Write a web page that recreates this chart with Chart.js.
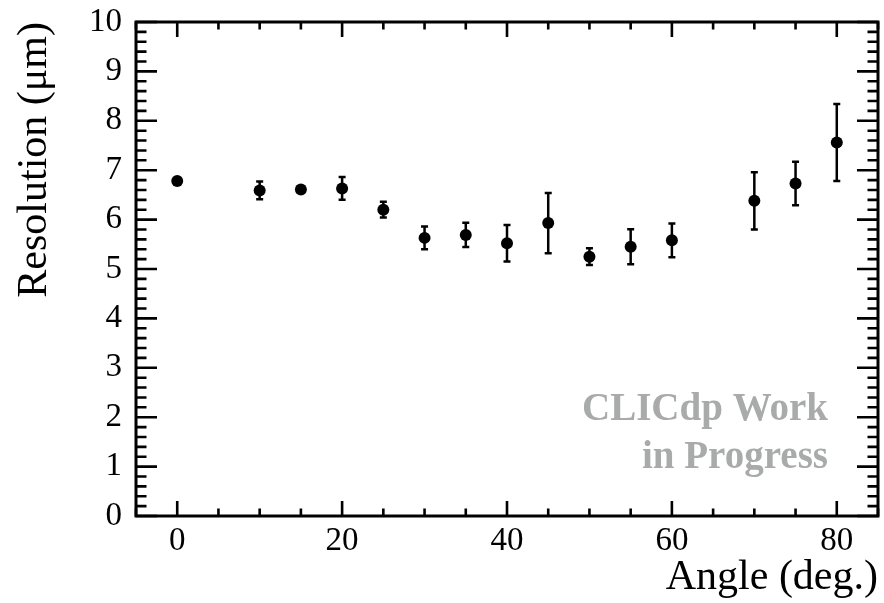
<!DOCTYPE html>
<html>
<head>
<meta charset="utf-8">
<script src="https://cdn.jsdelivr.net/npm/chart.js@4/dist/chart.umd.min.js"></script>
<style>
  html, body { margin: 0; padding: 0; background: #fff; }
  #wrap { width: 884px; height: 603px; }
</style>
</head>
<body>
<div id="wrap"><canvas id="c" width="884" height="603"></canvas></div>
<script>
// Sensor resolution versus incidence angle
const angles = [0, 10, 15, 20, 25, 30, 35, 40, 45, 50, 55, 60, 70, 75, 80];
const resolution = [6.78, 6.59, 6.61, 6.63, 6.20, 5.63, 5.69, 5.52, 5.93, 5.25, 5.45, 5.58, 6.38, 6.73, 7.56];
const resolutionErr = [0.05, 0.18, 0.05, 0.23, 0.16, 0.23, 0.245, 0.37, 0.61, 0.17, 0.355, 0.34, 0.58, 0.44, 0.78];

const xTicks = [0, 20, 40, 60, 80];
const yTicks = [0, 1, 2, 3, 4, 5, 6, 7, 8, 9, 10];
const xMinorStep = 5;
const yMinorStep = 0.2;

const SERIF = '"Liberation Serif", "DejaVu Serif", serif';

// Frame, inward ticks on all four sides, error bars and the label box
const frameAndErrors = {
  id: 'frameAndErrors',
  beforeDatasetsDraw(chart) {
    const ctx = chart.ctx;
    const xs = chart.scales.x, ys = chart.scales.y;
    ctx.save();
    ctx.strokeStyle = '#000';
    ctx.lineWidth = 2.5;
    ctx.lineCap = 'butt';
    const cap = 3.5;
    angles.forEach((a, i) => {
      const px = xs.getPixelForValue(a);
      const lo = ys.getPixelForValue(resolution[i] - resolutionErr[i]);
      const hi = ys.getPixelForValue(resolution[i] + resolutionErr[i]);
      ctx.beginPath();
      ctx.moveTo(px, lo); ctx.lineTo(px, hi);
      ctx.moveTo(px - cap, lo); ctx.lineTo(px + cap, lo);
      ctx.moveTo(px - cap, hi); ctx.lineTo(px + cap, hi);
      ctx.stroke();
    });
    ctx.restore();
  },
  afterDraw(chart) {
    const ctx = chart.ctx;
    const a = chart.chartArea;
    const xs = chart.scales.x, ys = chart.scales.y;
    ctx.save();
    ctx.strokeStyle = '#000';
    ctx.lineWidth = 2.6;
    ctx.lineCap = 'butt';

    // x ticks (bottom and top)
    const xMajLen = 15, xMinLen = 7.5;
    for (let v = xs.min; v <= xs.max + 1e-9; v += xMinorStep) {
      const major = xTicks.includes(Math.round(v));
      const len = major ? xMajLen : xMinLen;
      const px = xs.getPixelForValue(v);
      ctx.beginPath();
      ctx.moveTo(px, a.bottom); ctx.lineTo(px, a.bottom - len);
      ctx.moveTo(px, a.top); ctx.lineTo(px, a.top + len);
      ctx.stroke();
    }
    // y ticks (left and right)
    const yMajLen = 21, yMinLen = 10.5;
    const nMinor = Math.round((ys.max - ys.min) / yMinorStep);
    for (let k = 0; k <= nMinor; k++) {
      const v = ys.min + k * yMinorStep;
      const major = k % 5 === 0;
      const len = major ? yMajLen : yMinLen;
      const py = ys.getPixelForValue(v);
      ctx.beginPath();
      ctx.moveTo(a.left, py); ctx.lineTo(a.left + len, py);
      ctx.moveTo(a.right, py); ctx.lineTo(a.right - len, py);
      ctx.stroke();
    }

    // frame
    ctx.lineWidth = 3;
    ctx.strokeRect(a.left, a.top, a.right - a.left, a.bottom - a.top);

    // label box
    ctx.fillStyle = '#a9abaa';
    ctx.font = 'bold 39px ' + SERIF;
    ctx.textAlign = 'right';
    ctx.textBaseline = 'alphabetic';
    ctx.fillText('CLICdp Work', 828, 420);
    ctx.fillText('in Progress', 828, 468);
    ctx.restore();
  }
};

new Chart(document.getElementById('c'), {
  type: 'scatter',
  data: {
    datasets: [{
      label: 'Resolution',
      data: angles.map((a, i) => ({ x: a, y: resolution[i] })),
      backgroundColor: '#000',
      borderColor: '#000',
      pointRadius: 6,
      pointHoverRadius: 6,
      pointBorderWidth: 0
    }]
  },
  options: {
    responsive: false,
    animation: false,
    events: [],
    layout: { padding: { left: 0, top: 22, right: 4, bottom: 0 } },
    plugins: { legend: { display: false }, tooltip: { enabled: false } },
    scales: {
      x: {
        type: 'linear',
        min: -5,
        max: 85,
        afterBuildTicks(s) { s.ticks = xTicks.map(v => ({ value: v })); },
        afterFit(s) { s.height = 87; s.paddingLeft = 0; s.paddingRight = 0; },
        grid: { display: false, drawTicks: false },
        border: { display: false },
        ticks: {
          color: '#000',
          font: { family: SERIF, size: 33 },
          padding: 6,
          maxRotation: 0,
          autoSkip: false
        },
        title: {
          display: true,
          text: 'Angle (deg.)',
          align: 'end',
          color: '#000',
          font: { family: SERIF, size: 42 },
          padding: { top: 0, bottom: 0 }
        }
      },
      y: {
        type: 'linear',
        min: 0,
        max: 10,
        afterBuildTicks(s) { s.ticks = yTicks.map(v => ({ value: v })); },
        afterFit(s) { s.width = 136; s.paddingTop = 0; s.paddingBottom = 0; },
        grid: { display: false, drawTicks: false },
        border: { display: false },
        ticks: {
          color: '#000',
          font: { family: SERIF, size: 33 },
          padding: 14,
          autoSkip: false
        },
        title: {
          display: true,
          text: 'Resolution (\u03bcm)',
          align: 'end',
          color: '#000',
          font: { family: SERIF, size: 42 },
          padding: { top: 10, bottom: 0 }
        }
      }
    }
  },
  plugins: [frameAndErrors]
});
</script>
</body>
</html>
